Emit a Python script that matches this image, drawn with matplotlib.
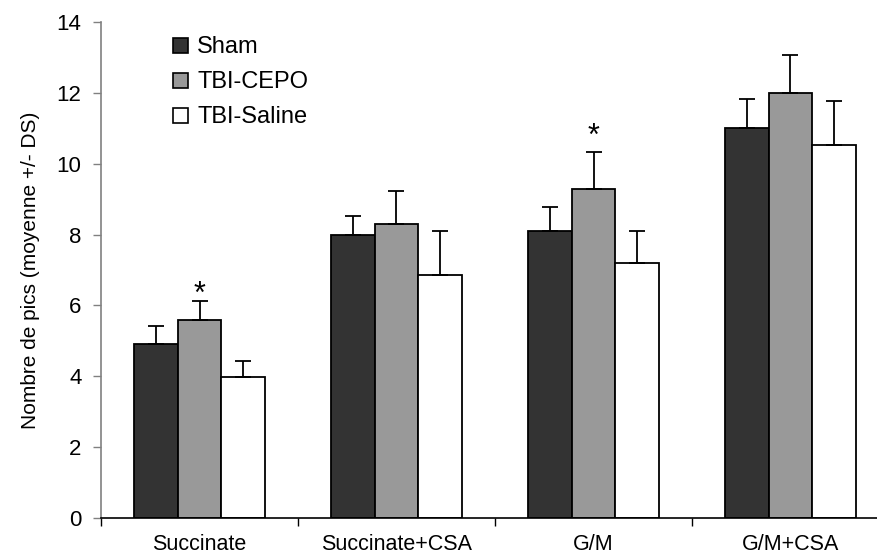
import matplotlib
matplotlib.use('Agg')
import matplotlib.pyplot as plt
import numpy as np
from matplotlib.patches import Patch

plt.rcParams['font.family'] = ['Liberation Sans', 'DejaVu Sans']

# Data
categories = ['Succinate', 'Succinate+CSA', 'G/M', 'G/M+CSA']
groups = ['Sham', 'TBI-CEPO', 'TBI-Saline']
sham = [4.9, 8.0, 8.1, 11.0]
sham_err = [0.52, 0.52, 0.67, 0.82]
cepo = [5.58, 8.3, 9.3, 12.0]
cepo_err = [0.54, 0.94, 1.02, 1.07]
saline = [3.97, 6.86, 7.21, 10.52]
saline_err = [0.47, 1.25, 0.89, 1.24]
# significance marks: (category index, group index, y position)
stars = [(0, 1, 6.3), (2, 1, 10.75)]

colors = ['#333333', '#999999', '#ffffff']
values = [sham, cepo, saline]
errors = [sham_err, cepo_err, saline_err]

fig = plt.figure(figsize=(8.77, 5.56), dpi=100)
# axes deliberately runs past the right edge, as in the original
ax = fig.add_axes([101 / 877, 38 / 556, 788 / 877, 496 / 556])

x = np.arange(len(categories)) + 0.5
width = 0.22
offsets = [-width, 0, width]

for vals, errs, col, off in zip(values, errors, colors, offsets):
    ax.bar(x + off, vals, width, color=col, edgecolor='black', linewidth=1.3,
           zorder=2)
    ax.errorbar(x + off, vals, yerr=[np.zeros(len(vals)), errs], fmt='none',
                ecolor='black', elinewidth=1.3, capsize=6, capthick=1.3,
                zorder=3)

for ci, gi, yy in stars:
    ax.text(x[ci] + offsets[gi], yy, '*', ha='center', va='center',
            fontsize=22)

ax.set_xlim(0, 4)
ax.set_ylim(0, 14)
ax.set_yticks(np.arange(0, 15, 2))
ax.set_xticks(np.arange(0, 5))
ax.set_xticklabels([])
ax.set_xticks(x, minor=True)
ax.set_xticklabels(categories, minor=True)
ax.tick_params(axis='x', which='minor', length=0, pad=11.5, labelsize=15.5)
ax.tick_params(axis='x', which='major', direction='out', length=5.5,
               width=1.0, color='black')
ax.tick_params(axis='y', direction='out', length=6, width=1.0,
               color='#808080', labelsize=16, pad=8)

ax.spines['top'].set_visible(False)
ax.spines['right'].set_visible(False)
ax.spines['left'].set_color('#808080')
ax.spines['left'].set_linewidth(1.2)
ax.spines['bottom'].set_color('black')
ax.spines['bottom'].set_linewidth(1.2)

ax.set_ylabel('Nombre de pics (moyenne +/- DS)', fontsize=15)
ax.yaxis.set_label_coords(-0.078, 0.5)

handles = [Patch(facecolor=c, edgecolor='black', linewidth=1.2) for c in colors]
ax.legend(handles, groups, loc='upper left', bbox_to_anchor=(0.08, 0.99),
          frameon=False, fontsize=17, handlelength=0.6, handleheight=0.6,
          handletextpad=0.4, labelspacing=0.55, borderaxespad=0)

fig.savefig('out.png', dpi=100)
